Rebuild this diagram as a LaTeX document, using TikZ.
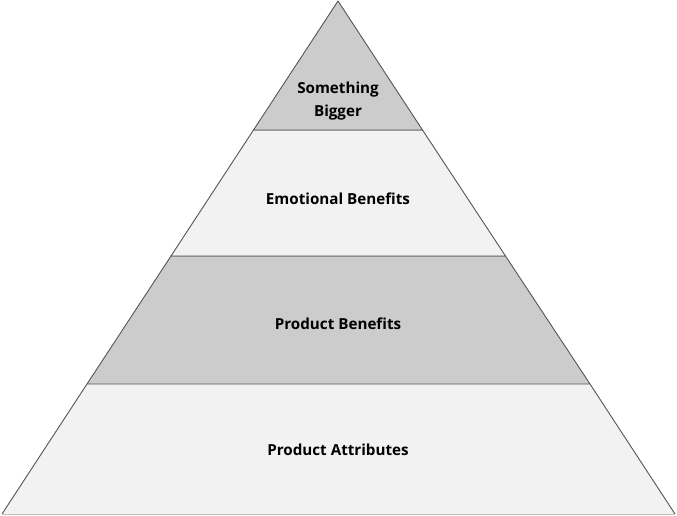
\documentclass[tikz,border=0pt]{standalone}
\usepackage{fontspec}
\setmainfont{Open Sans}[Ligatures={NoCommon}]
\definecolor{darkfill}{HTML}{CCCCCC}
\definecolor{lightfill}{HTML}{F2F2F2}
\definecolor{edge}{HTML}{555555}
\begin{document}
\begin{tikzpicture}[x=1pt,y=-1pt,
  layer/.style={draw=edge,line width=0.9pt,line join=round},
  lbl/.style={font=\fontsize{15.2}{23}\selectfont\bfseries,text=black,align=center,inner sep=0pt}]
\useasboundingbox (0,0) rectangle (677,515);
\coordinate (apex) at (338,1);
\coordinate (a1) at (253.5,130);
\coordinate (b1) at (422.5,130);
\coordinate (a2) at (171,256);
\coordinate (b2) at (505.5,256);
\coordinate (a3) at (87,384);
\coordinate (b3) at (590,384);
\coordinate (a4) at (2,514);
\coordinate (b4) at (675,514);
\fill[lightfill] (a3) -- (b3) -- (b4) -- (a4) -- cycle;
\draw[layer] (a3) -- (a4);
\draw[layer] (b3) -- (b4);
\draw[draw=black!25,line width=0.9pt] (a4) -- (b4);
\filldraw[layer,fill=darkfill] (a2) -- (b2) -- (b3) -- (a3) -- cycle;
\filldraw[layer,fill=lightfill] (a1) -- (b1) -- (b2) -- (a2) -- cycle;
\filldraw[layer,fill=darkfill] (apex) -- (b1) -- (a1) -- cycle;
\node[lbl] (top) at (338,101) {Something\\Bigger};
\node[lbl] (emo) at (338,199) {Emotional Benefits};
\node[lbl] (pb) at (338,324) {Product Benefits};
\node[lbl] (pa) at (338,450) {Product Attributes};
\end{tikzpicture}
\end{document}
